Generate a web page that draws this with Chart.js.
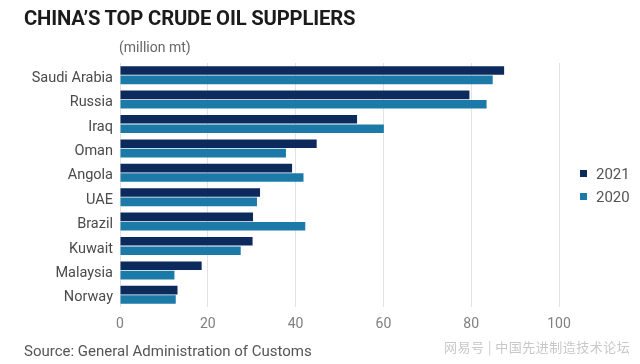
<!DOCTYPE html>
<html>
<head>
<meta charset="utf-8">
<script src="https://cdn.jsdelivr.net/npm/chart.js@4/dist/chart.umd.min.js"></script>
<style>
  html, body { margin: 0; padding: 0; background: #fff; }
  #wrap { position: relative; width: 640px; height: 364px; overflow: hidden; font-family: Roboto, "Noto Sans", sans-serif; }
  #c { position: absolute; left: 0; top: 0; }
  #title { position: absolute; left: 24px; top: 6px; font-size: 21px; font-weight: bold; color: #1b1b1b; white-space: nowrap; transform-origin: left top; letter-spacing: -0.2px; }
  #unit { position: absolute; left: 119px; top: 39px; font-size: 14px; color: #666; }
  #source { position: absolute; left: 24px; top: 342px; font-size: 15px; color: #555; white-space: nowrap; }
  #wm { position: absolute; left: 444px; top: 337px; font-size: 13px; color: #c8c8c8; white-space: nowrap; letter-spacing: 0.5px; font-family: "Noto Sans CJK SC", sans-serif; }
  .lg { position: absolute; left: 580px; font-size: 15px; color: #555; white-space: nowrap; }
  .lg span.box { display: inline-block; width: 7px; height: 7px; margin-right: 9px; vertical-align: 2px; }
</style>
</head>
<body>
<div id="wrap">
  <canvas id="c" width="640" height="364"></canvas>
  <div id="title">CHINA’S TOP CRUDE OIL SUPPLIERS</div>
  <div id="unit">(million mt)</div>
  <div class="lg" id="lg1" style="top:165px"><span class="box" style="background:#0d2a5c"></span>2021</div>
  <div class="lg" id="lg2" style="top:188px"><span class="box" style="background:#1c7aa8"></span>2020</div>
  <div id="source">Source: General Administration of Customs</div>
  <div id="wm">网易号 | 中国先进制造技术论坛</div>
</div>
<script>
const categories = ["Saudi Arabia", "Russia", "Iraq", "Oman", "Angola", "UAE", "Brazil", "Kuwait", "Malaysia", "Norway"];
const values2021 = [87.5, 79.6, 54.0, 44.8, 39.2, 31.9, 30.3, 30.2, 18.6, 13.1];
const values2020 = [84.9, 83.5, 60.1, 37.8, 41.8, 31.2, 42.2, 27.5, 12.4, 12.7];
const xTicks = [0, 20, 40, 60, 80, 100];
const seriesNames = ["2021", "2020"];

// fit title width
(function(){
  const t = document.getElementById('title');
  const w = t.offsetWidth;
  t.style.transform = 'scaleX(' + (331 / w) + ')';
})();

new Chart(document.getElementById('c'), {
  type: 'bar',
  data: {
    labels: categories,
    datasets: [
      { label: seriesNames[0], data: values2021, backgroundColor: '#0d2a5c', barPercentage: 0.92, categoryPercentage: 0.77 },
      { label: seriesNames[1], data: values2020, backgroundColor: '#1c7aa8', barPercentage: 0.92, categoryPercentage: 0.77 }
    ]
  },
  options: {
    indexAxis: 'y',
    responsive: false,
    animation: false,
    layout: { padding: { top: 63, right: 81, left: 0, bottom: 0 } },
    plugins: { legend: { display: false }, tooltip: { enabled: false } },
    scales: {
      x: {
        min: 0, max: 100,
        afterFit: s => { s.height = 57; },
        afterBuildTicks: s => { s.ticks = xTicks.map(v => ({ value: v })); },
        grid: { color: '#e2e2e2', lineWidth: 1, drawTicks: false },
        border: { display: false },
        ticks: { color: '#808080', font: { family: 'Roboto', size: 14 }, padding: 9 }
      },
      y: {
        afterFit: s => { s.width = 120; },
        grid: { display: false, drawTicks: false },
        border: { display: false },
        ticks: { color: '#4a4a4a', font: { family: 'Roboto', size: 14.5 }, padding: 7, labelOffset: 3 }
      }
    }
  }
});
</script>
</body>
</html>
